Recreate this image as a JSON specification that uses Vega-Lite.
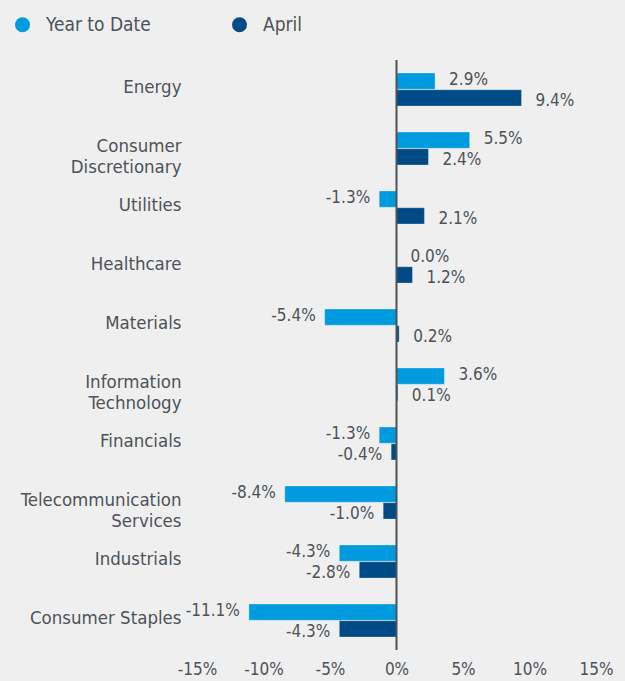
{
  "$schema": "https://vega.github.io/schema/vega-lite/v6.json",
  "width": 399,
  "height": 590,
  "autosize": "none",
  "padding": {"left": 197, "top": 60, "right": 29, "bottom": 31},
  "background": "#efefef",
  "config": {"view": {"stroke": null}, "font": "DejaVu Sans Condensed, Roboto"},
  "data": {"values": [
    {"sector": "Energy", "period": "Year to Date", "value": 2.9},
    {"sector": "Energy", "period": "April", "value": 9.4},
    {"sector": "Consumer|Discretionary", "period": "Year to Date", "value": 5.5},
    {"sector": "Consumer|Discretionary", "period": "April", "value": 2.4},
    {"sector": "Utilities", "period": "Year to Date", "value": -1.3},
    {"sector": "Utilities", "period": "April", "value": 2.1},
    {"sector": "Healthcare", "period": "Year to Date", "value": 0.0},
    {"sector": "Healthcare", "period": "April", "value": 1.2},
    {"sector": "Materials", "period": "Year to Date", "value": -5.4},
    {"sector": "Materials", "period": "April", "value": 0.2},
    {"sector": "Information|Technology", "period": "Year to Date", "value": 3.6},
    {"sector": "Information|Technology", "period": "April", "value": 0.1},
    {"sector": "Financials", "period": "Year to Date", "value": -1.3},
    {"sector": "Financials", "period": "April", "value": -0.4},
    {"sector": "Telecommunication|Services", "period": "Year to Date", "value": -8.4},
    {"sector": "Telecommunication|Services", "period": "April", "value": -1.0},
    {"sector": "Industrials", "period": "Year to Date", "value": -4.3},
    {"sector": "Industrials", "period": "April", "value": -2.8},
    {"sector": "Consumer Staples", "period": "Year to Date", "value": -11.1},
    {"sector": "Consumer Staples", "period": "April", "value": -4.3}
  ]},
  "transform": [{"calculate": "replace(format(datum.value, '.1f'), '\u2212', '-') + '%'", "as": "label"}],
  "layer": [
    {
      "mark": {"type": "bar", "stroke": "#ffffff", "strokeWidth": 0.5, "strokeOpacity": 0.6},
      "encoding": {
        "y": {"field": "sector", "type": "nominal", "sort": null,
              "scale": {"paddingInner": 0.44, "paddingOuter": 0.22},
              "axis": {"title": null, "domain": false, "ticks": false, "labelPadding": 16, "labelFontSize": 18.5,
                       "labelColor": "#4d5259", "labelExpr": "split(datum.label, '|')", "labelLineHeight": 21,
                       "labelLimit": 300, "labelOffset": -3}},
        "yOffset": {"field": "period", "type": "nominal", "sort": ["Year to Date", "April"], "scale": {"paddingInner": 0.03}},
        "x": {"field": "value", "type": "quantitative", "scale": {"domain": [-15, 15], "nice": false},
              "axis": {"title": null, "domain": false, "ticks": false, "grid": false,
                       "values": [-15, -10, -5, 0, 5, 10, 15], "labelExpr": "datum.value + '%'",
                       "labelFontSize": 17, "labelPadding": 11, "labelColor": "#4d5259",
                       "labelFlush": false, "labelOverlap": false}},
        "color": {"field": "period", "type": "nominal",
                  "scale": {"domain": ["Year to Date", "April"], "range": ["#009bde", "#004a85"]},
                  "legend": {"title": null, "orient": "none", "legendX": -184, "legendY": -45,
                             "direction": "horizontal", "symbolType": "circle", "symbolSize": 225,
                             "symbolStrokeWidth": 0, "labelFontSize": 19, "labelOffset": 14,
                             "labelColor": "#4d5259", "columnPadding": 79, "padding": 0}}
      }
    },
    {
      "transform": [{"filter": "datum.value >= 0"}],
      "mark": {"type": "text", "align": "left", "baseline": "middle", "dx": 14, "fontSize": 17, "color": "#4d5259",
               "dy": {"expr": "datum.period == 'April' ? 3 : -1"}},
      "encoding": {
        "y": {"field": "sector", "type": "nominal", "sort": null},
        "yOffset": {"field": "period", "type": "nominal", "sort": ["Year to Date", "April"]},
        "x": {"field": "value", "type": "quantitative"},
        "text": {"field": "label"}
      }
    },
    {
      "transform": [{"filter": "datum.value < 0"}],
      "mark": {"type": "text", "align": "right", "baseline": "middle", "dx": -9, "fontSize": 17, "color": "#4d5259",
               "dy": {"expr": "datum.period == 'April' ? 3 : -1"}},
      "encoding": {
        "y": {"field": "sector", "type": "nominal", "sort": null},
        "yOffset": {"field": "period", "type": "nominal", "sort": ["Year to Date", "April"]},
        "x": {"field": "value", "type": "quantitative"},
        "text": {"field": "label"}
      }
    },
    {
      "data": {"values": [{}]},
      "mark": {"type": "rule", "color": "#4d5259", "strokeWidth": 2},
      "encoding": {"x": {"datum": 0}}
    }
  ]
}
